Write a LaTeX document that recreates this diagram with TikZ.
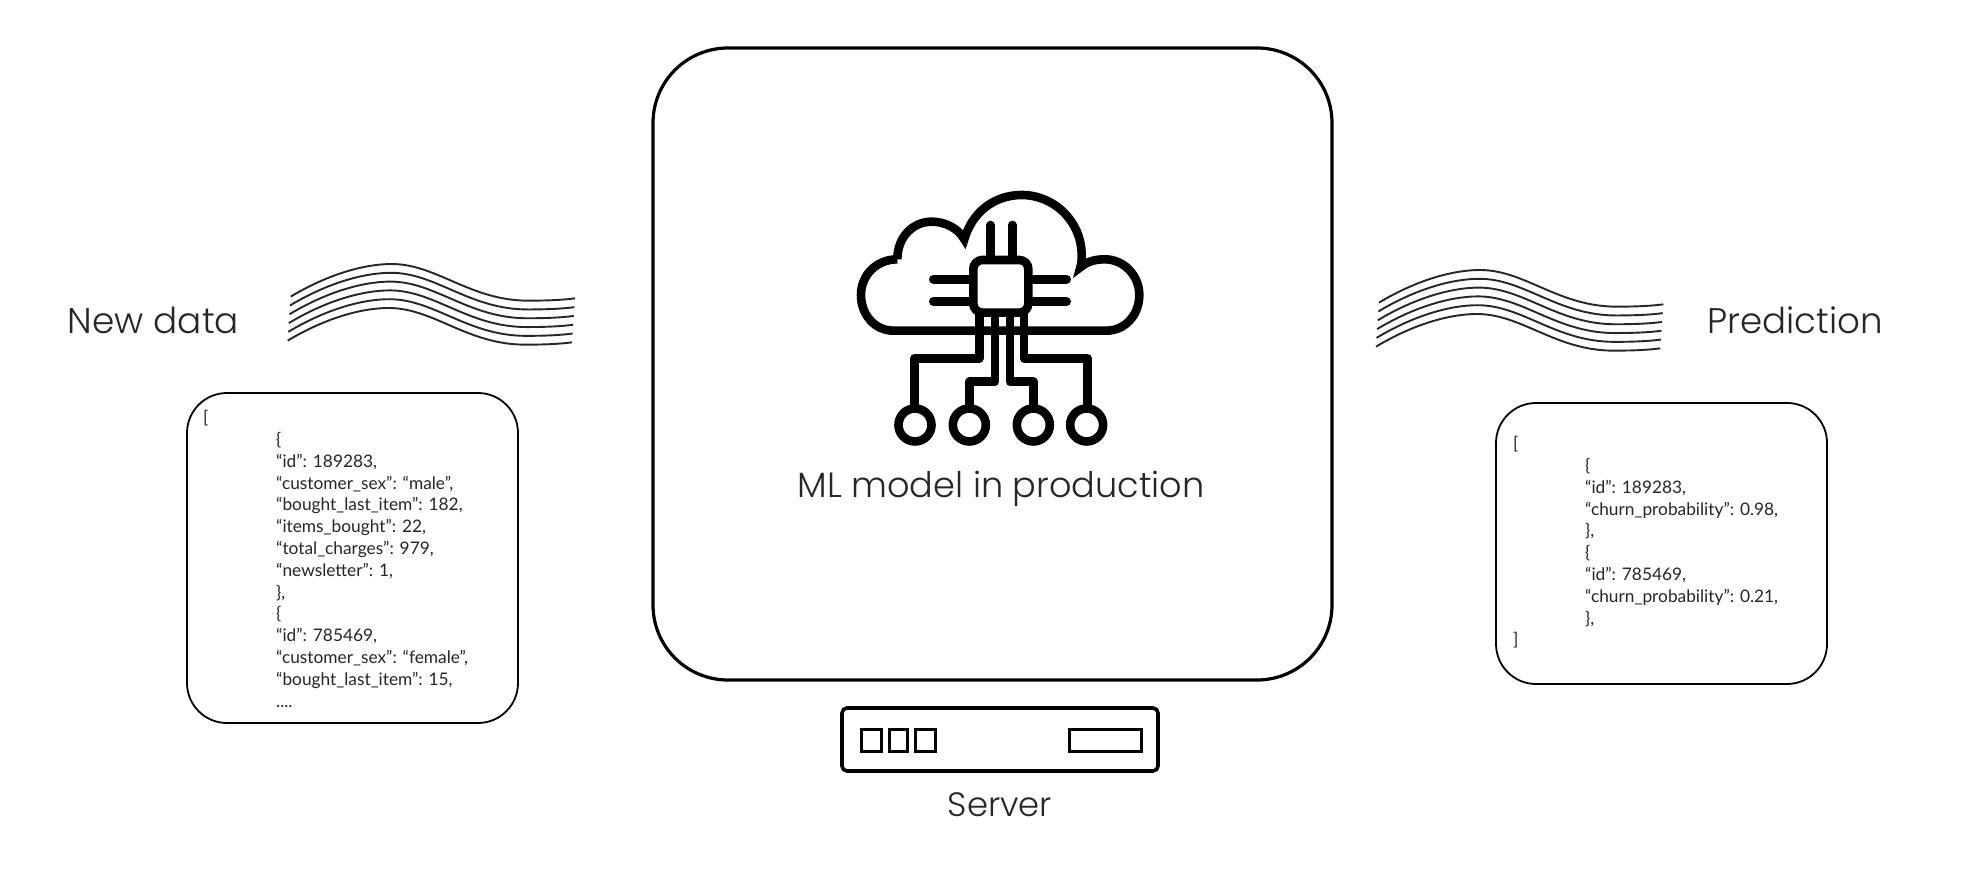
\documentclass[tikz,border=0pt]{standalone}
\usepackage{fontspec}
\setmainfont{Poppins Light}
\newfontfamily\jsonfont{Lato}
\begin{document}
\begin{tikzpicture}[x=1pt,y=-1pt,
  frame/.style={draw=black,rounded corners=#1,inner sep=0pt,fill=white},
  title/.style={inner sep=0pt,font=\fontsize{#1}{42}\selectfont,text=black!85},
  json/.style={inner sep=0pt,anchor=north west,align=left,font=\jsonfont\fontsize{17.3}{21.8}\selectfont,text=black!85},
  wave/.style={line width=1.9pt,draw=black!85},
  icon/.style={line width=8.6pt,draw=black,line join=round},
  pad/.style={draw=black,line width=8.6pt,circle,inner sep=0pt,minimum size=33pt,fill=white},
  slot/.style={draw=black,line width=3.4pt,inner sep=0pt}]
\useasboundingbox (0,0) rectangle (1972,874);
% main box
\node[frame=75pt,line width=3.2pt,minimum width=679pt,minimum height=632pt] (main) at (992.5,364) {};
% icon
\begin{scope}[shift={(820,170)},x=0.3333pt,y=-0.3333pt]
  \coordinate (c1) at (285,765);
  \coordinate (c2) at (448,765);
  \coordinate (c3) at (640,765);
  \coordinate (c4) at (800,765);
  \draw[icon,line join=miter,miter limit=20]
    (232,268) .. controls (170,268) and (123,315) .. (123,375)
    .. controls (123,435) and (165,482) .. (220,482) -- (860,482)
    .. controls (915,482) and (958,435) .. (958,375)
    .. controls (958,315) and (910,268) .. (855,268)
    .. controls (830,268) and (805,272) .. (781,292)
    .. controls (785,280) and (785,270) .. (785,255)
    .. controls (785,156) and (704,75) .. (605,75)
    .. controls (520,75) and (455,130) .. (433,208)
    .. controls (415,175) and (375,155) .. (335,155)
    .. controls (280,155) and (232,200) .. (232,268);
  \draw[icon,rounded corners=9pt,fill=white] (460,270) rectangle (625,428);
  \draw[icon,line cap=round] (512,165) -- (512,268);
  \draw[icon,line cap=round] (577,165) -- (577,268);
  \draw[icon,line cap=round] (340,328) -- (450,328);
  \draw[icon,line cap=round] (340,395) -- (450,395);
  \draw[icon,line cap=round] (635,328) -- (740,328);
  \draw[icon,line cap=round] (635,395) -- (740,395);
  \draw[icon] (478,428) -- (478,565) -- (283,565) -- (283,718);
  \draw[icon] (525,428) -- (525,635) -- (448,635) -- (448,718);
  \draw[icon] (570,428) -- (570,635) -- (640,635) -- (640,718);
  \draw[icon] (612,428) -- (612,565) -- (803,565) -- (803,718);
  \node[pad] (n1) at (c1) {};
  \node[pad] (n2) at (c2) {};
  \node[pad] (n3) at (c3) {};
  \node[pad] (n4) at (c4) {};
\end{scope}
\node[title=35.1] (model) at (1001,488.5) {ML model in production};
% server
\node[frame=5pt,line width=3.6pt,minimum width=316pt,minimum height=63pt] (server) at (1000,739.5) {};
\node[slot,minimum width=19.6pt,minimum height=21.6pt] (s1) at (871.5,740.5) {};
\node[slot,minimum width=17.6pt,minimum height=21.6pt] (s2) at (898.5,740.5) {};
\node[slot,minimum width=19.6pt,minimum height=21.6pt] (s3) at (925.5,740.5) {};
\node[slot,minimum width=71.6pt,minimum height=21.6pt] (s4) at (1105.5,740.5) {};
\node[title=33.8] (serverlabel) at (1000,805) {Server};
% labels
\node[title=35.8] (newdata) at (153.5,320) {New data};
\node[title=35.6] (prediction) at (1795,320) {Prediction};
% waves
\foreach \i in {0,...,5}{
  \begin{scope}[shift={(270-0.6*\i,250+8.8*\i)},x=0.3333pt,y=-0.3333pt]
    \draw[wave] (62,140) .. controls (170,75) and (280,42) .. (365,42)
      .. controls (500,42) and (600,152) .. (775,152)
      .. controls (830,152) and (880,150) .. (915,145);
  \end{scope}
  \begin{scope}[shift={(1358.3-0.6*\i,256+8.8*\i)},x=0.3333pt,y=-0.3333pt]
    \draw[wave] (62,140) .. controls (170,75) and (280,42) .. (365,42)
      .. controls (500,42) and (600,152) .. (775,152)
      .. controls (830,152) and (880,150) .. (915,145);
  \end{scope}
}
% left json
\node[frame=40pt,line width=1.8pt,minimum width=331pt,minimum height=330pt] (leftbox) at (352.5,558) {};
\node[json] (lb) at (203,410) {[};
\node[json] (lj) at (276,432) {\{\\“id”: 189283,\\“customer\_sex”: “male”,\\“bought\_last\_item”: 182,\\“items\_bought”: 22,\\“total\_charges”: 979,\\“newsletter”: 1,\\\},\\\{\\“id”: 785469,\\“customer\_sex”: “female”,\\“bought\_last\_item”: 15,\\....};
% right json
\node[frame=40pt,line width=1.8pt,minimum width=331pt,minimum height=281pt] (rightbox) at (1661.5,543.5) {};
\node[json] (rj) at (1513,436) {[};
\node[json] (rk) at (1585,458) {\{\\“id”: 189283,\\“churn\_probability”: 0.98,\\\},\\\{\\“id”: 785469,\\“churn\_probability”: 0.21,\\\},};
\node[json] (rl) at (1513,632) {]};
\end{tikzpicture}
\end{document}
